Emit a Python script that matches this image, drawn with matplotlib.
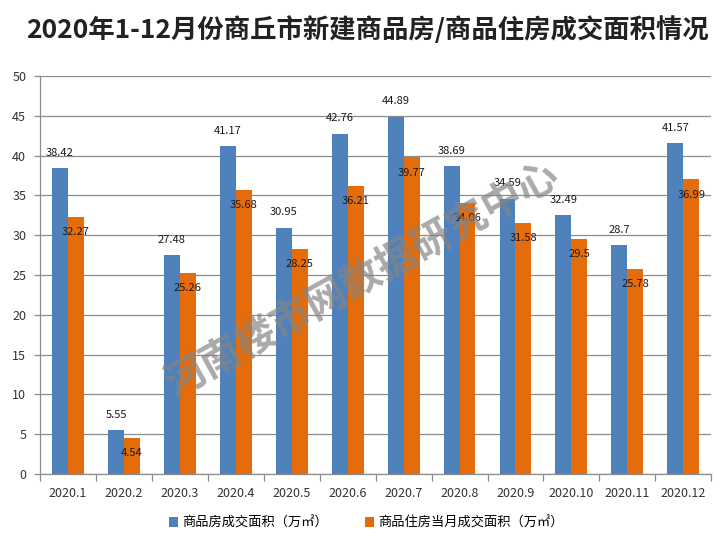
import numpy as np
import matplotlib.pyplot as plt

plt.rcParams['font.family'] = ['Noto Sans CJK SC', 'DejaVu Sans']

months = ['2020.1', '2020.2', '2020.3', '2020.4', '2020.5', '2020.6',
          '2020.7', '2020.8', '2020.9', '2020.10', '2020.11', '2020.12']
total_area = [38.42, 5.55, 27.48, 41.17, 30.95, 42.76, 44.89, 38.69, 34.59, 32.49, 28.7, 41.57]
house_area = [32.27, 4.54, 25.26, 35.68, 28.25, 36.21, 39.77, 34.06, 31.58, 29.5, 25.78, 36.99]
total_label = '商品房成交面积（万㎡）'
house_label = '商品住房当月成交面积（万㎡）'
title = '2020年1-12月份商丘市新建商品房/商品住房成交面积情况'
watermark = '河南楼市网数据研究中心'

blue = '#4F81BD'
orange = '#E46C0A'
grid_c = '#8c8c8c'

fig = plt.figure(figsize=(7.28, 5.54), dpi=100)
ax = fig.add_axes([0.055, 0.1444, 0.922, 0.7186])

x = np.arange(len(months))
w = 0.285
b1 = ax.bar(x - w / 2, total_area, w, color=blue, label=total_label, zorder=3)
b2 = ax.bar(x + w / 2, house_area, w, color=orange, label=house_label, zorder=3)

# data labels: blue above the bar, orange just inside the top
for xi, v in zip(x, total_area):
    ax.annotate(f'{v:g}', (xi - w / 2, v), xytext=(0, 11), textcoords='offset points',
                ha='center', va='center', fontsize=8, color='#1a1a1a', zorder=5)
for xi, v in zip(x, house_area):
    ax.annotate(f'{v:g}', (xi + w / 2, v), xytext=(0, -11), textcoords='offset points',
                ha='center', va='center', fontsize=8, color='#1a1a1a', zorder=5)

ax.set_xlim(-0.5, len(months) - 0.5)
ax.set_ylim(0, 50)
ax.set_yticks(np.arange(0, 51, 5))
ax.yaxis.grid(True, color=grid_c, linewidth=0.9, zorder=0)
ax.set_xticks(x)
ax.set_xticklabels(months, fontsize=9, color='#333333')
ax.set_xticks(np.arange(-0.5, len(months), 1), minor=True)
ax.tick_params(axis='x', which='major', length=0, pad=9)
ax.tick_params(axis='x', which='minor', length=5, color=grid_c, width=0.9)
ax.tick_params(axis='y', length=4, color=grid_c, width=0.9, labelsize=9, labelcolor='#333333', pad=6)
for s in ['top', 'right']:
    ax.spines[s].set_visible(False)
for s in ['left', 'bottom']:
    ax.spines[s].set_color(grid_c)
    ax.spines[s].set_linewidth(0.9)

fig.legend(handles=[b1, b2], loc='center', bbox_to_anchor=(0.503, 0.056), ncol=2,
           frameon=False, fontsize=9.5, handlelength=0.7, handleheight=0.7,
           handletextpad=0.3, columnspacing=2.8)

fig.text(0.505, 0.945, title, ha='center', va='center', fontsize=19,
         fontweight='bold', color='#222222')

fig.text(0.497, 0.495, watermark, ha='center', va='center', fontsize=29,
         fontweight='bold', color='#858585', alpha=0.7, rotation=29, zorder=10)

fig.savefig('out.png', dpi=100)
